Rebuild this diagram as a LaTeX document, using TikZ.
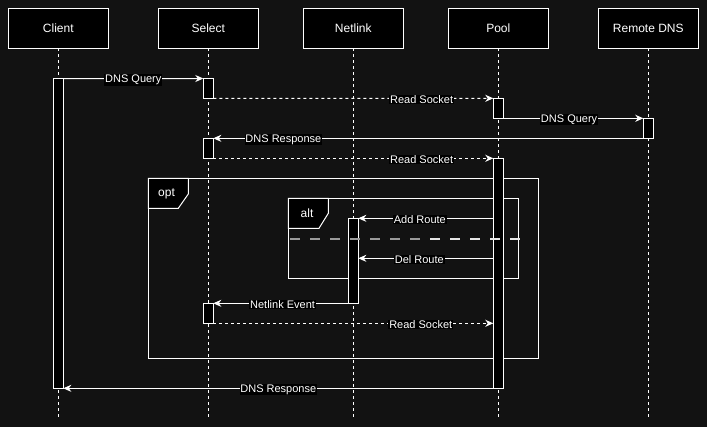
\documentclass[tikz,border=0pt]{standalone}
\usepackage{fontspec}
\setmainfont{Liberation Sans}
\usetikzlibrary{arrows.meta}
\definecolor{bgc}{HTML}{121212}
\definecolor{divgray}{HTML}{9A9A9A}
\definecolor{divlight}{HTML}{E6E6E6}
\begin{document}
\begin{tikzpicture}[x=1pt,y=-1pt,
  actor/.style={draw=white, fill=black, line width=1pt, minimum width=100pt, minimum height=40pt, inner sep=0pt, outer sep=0pt, text=white, font=\fontsize{12}{14}\selectfont},
  actbar/.style={draw=white, fill=black, line width=1pt, minimum width=10pt, inner sep=0pt, outer sep=0pt},
  life/.style={white, line width=0.8pt, dash pattern=on 3pt off 3pt},
  msg/.style={white, line width=1pt, -{Stealth[length=8pt,width=7pt,inset=2.5pt]}},
  ret/.style={msg, dash pattern=on 3pt off 3pt},
  lbl/.style={fill=black, text=white, inner sep=0.8pt, yshift=-1.2pt, font=\fontsize{11}{13}\selectfont},
  frame/.style={draw=white, line width=1pt},
  tab/.style={draw=white, fill=black, line width=1pt},
  divider/.style={line width=1.1pt, dash pattern=on 10pt off 10pt}
]
\useasboundingbox (0,0) rectangle (707,427);
\fill[bgc] (0,0) rectangle (707,427);

% actors
\node[actor] (client) at (58.3,28.3) {Client};
\node[actor] (select) at (208.3,28.3) {Select};
\node[actor] (netlink) at (353.3,28.3) {Netlink};
\node[actor] (pool) at (498.3,28.3) {Pool};
\node[actor] (remote) at (648.3,28.3) {Remote DNS};

% lifeline ends
\coordinate (clientE) at (58.3,417);
\coordinate (selectE) at (208.3,417);
\coordinate (netlinkE) at (353.3,417);
\coordinate (poolE) at (498.3,417);
\coordinate (remoteE) at (648.3,417);
\draw[life] (client.south) -- (clientE);
\draw[life] (select.south) -- (selectE);
\draw[life] (netlink.south) -- (netlinkE);
\draw[life] (pool.south) -- (poolE);
\draw[life] (remote.south) -- (remoteE);

% frames
\draw[frame] (148.3,178.3) rectangle (538.7,358.3);
\draw[tab] (148.3,178.3) -- (188.3,178.3) -- (188.3,194) -- (178.3,208.3) -- (148.3,208.3) -- cycle;
\node[text=white, font=\fontsize{12}{14}\selectfont] (optlbl) at (166.5,193.5) {opt};
\draw[frame] (288.3,198.3) rectangle (518.3,278.3);
\draw[tab] (288.3,198.3) -- (328.3,198.3) -- (328.3,213.3) -- (319,228.3) -- (288.3,228.3) -- cycle;
\node[text=white, font=\fontsize{12}{14}\selectfont] (altlbl) at (307,213.5) {alt};

% activations
\node[actbar, minimum height=309.6pt] (cA) at (58.3,233.5) {};
\node[actbar, minimum height=20pt] (s1) at (208.3,88.5) {};
\node[actbar, minimum height=20pt] (p1) at (498.3,108.3) {};
\node[actbar, minimum height=20pt] (r1) at (648.3,128.3) {};
\node[actbar, minimum height=20pt] (s2) at (208.3,148.3) {};
\node[actbar, minimum height=230pt] (p2) at (498.3,273.3) {};
\node[actbar, minimum height=85pt] (n1) at (353.3,260.8) {};
\node[actbar, minimum height=20pt] (s3) at (208.3,313.3) {};

% messages
\draw[msg] (cA.north east) -- node[lbl, pos=0.5] {DNS Query} (s1.north west);
\draw[ret] (s1.south east) -- node[lbl, pos=0.744] {Read Socket} (p1.north west);
\draw[msg] (p1.south east) -- node[lbl, pos=0.47] {DNS Query} (r1.north west);
\draw[msg] (r1.south west) -- node[lbl, pos=0.837] {DNS Response} (s2.north east);
\draw[ret] (s2.south east) -- node[lbl, pos=0.744] {Read Socket} (p2.north west);
\draw[msg] (p2.west |- n1.north) -- node[lbl, pos=0.544] {Add Route} (n1.north east);
\coordinate (delY) at (0,258.3);
\draw[msg] (p2.west |- delY) -- node[lbl, pos=0.548] {Del Route} (n1.east |- delY);
\draw[msg] (n1.south west) -- node[lbl, pos=0.487] {Netlink Event} (s3.north east);
\draw[ret] (s3.south east) -- node[lbl, pos=0.741] {Read Socket} (p2.west |- s3.south);
\draw[msg] (p2.south west) -- node[lbl, pos=0.5] {DNS Response} (cA.south east);

% alt divider
\coordinate (divA) at (290,239);
\coordinate (divB) at (430,239);
\coordinate (divC) at (520,239);
\draw[divider, divgray] (divA) -- (divB);
\draw[divider, divlight] (divB) -- (divC);
\end{tikzpicture}
\end{document}
